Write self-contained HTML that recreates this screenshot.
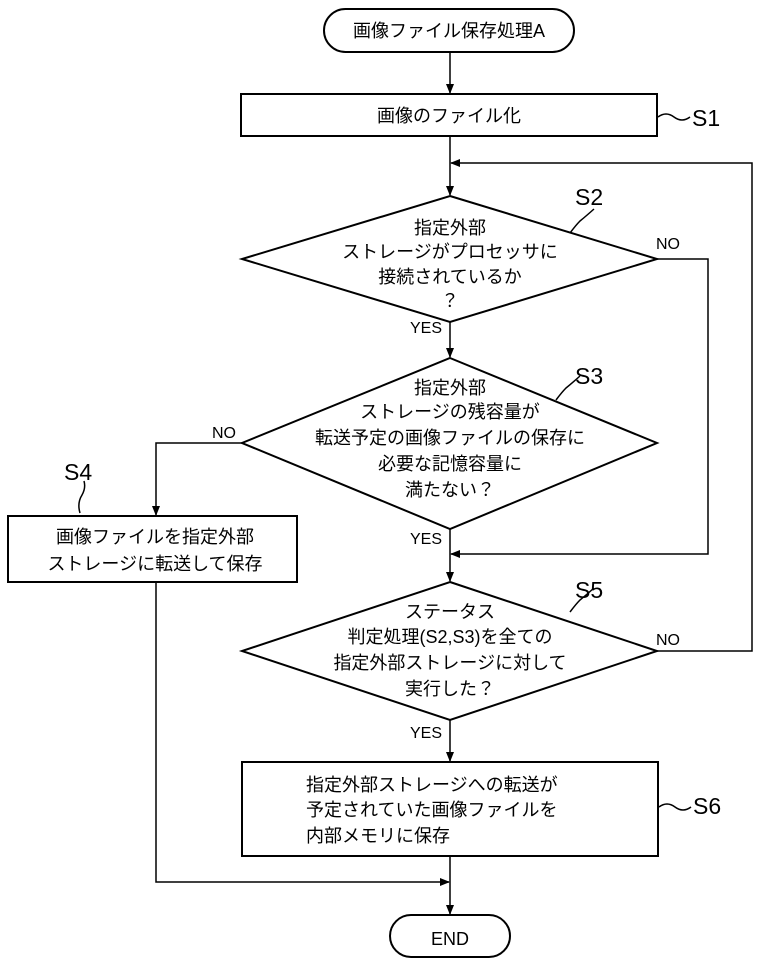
<!DOCTYPE html>
<html><head><meta charset="utf-8"><style>
html,body{margin:0;padding:0;background:#fff}
svg text{font-family:"Liberation Sans","Noto Sans CJK JP",sans-serif;fill:#000}
</style></head><body>
<svg width="762" height="959" viewBox="0 0 762 959" xmlns="http://www.w3.org/2000/svg">
<defs><marker id="a" markerWidth="10" markerHeight="10" refX="9" refY="5" orient="auto" markerUnits="userSpaceOnUse"><path d="M0,1 L10,5 L0,9 Z" fill="#000"/></marker></defs>
<g stroke="#000" stroke-width="2" fill="none">
<rect x="324" y="9" width="250" height="43" rx="21.5"/>
<rect x="241" y="94" width="416" height="42"/>
<polygon points="450,196 657,259 450,322 242,259"/>
<polygon points="450,358 657,443 450,529 242,443"/>
<rect x="8" y="516" width="289" height="66"/>
<polygon points="450,582 657,651 450,720 242,651"/>
<rect x="242" y="762" width="416" height="94"/>
<rect x="390" y="915" width="120" height="42" rx="21"/>
</g>
<g stroke="#000" stroke-width="1.5" fill="none">
<line x1="450" y1="52" x2="450" y2="93" marker-end="url(#a)"/>
<line x1="450" y1="136" x2="450" y2="195" marker-end="url(#a)"/>
<polyline points="657,651 752,651 752,163 451,163" marker-end="url(#a)"/>
<polyline points="657,259 708,259 708,554 451,554" marker-end="url(#a)"/>
<line x1="450" y1="322" x2="450" y2="357" marker-end="url(#a)"/>
<polyline points="242,443 156,443 156,515" marker-end="url(#a)"/>
<line x1="450" y1="529" x2="450" y2="581" marker-end="url(#a)"/>
<line x1="450" y1="720" x2="450" y2="761" marker-end="url(#a)"/>
<polyline points="156,582 156,882 449,882" marker-end="url(#a)"/>
<line x1="450" y1="856" x2="450" y2="914" marker-end="url(#a)"/>
<path d="M658,117 q8,-6 16,0 t16,0"/>
<path d="M570,233 q6,-8 10,-12 q5,-4 14,-12"/>
<path d="M556,400 q6,-8 10,-12 q5,-4 14,-12"/>
<path d="M80,513 q-3,-10 2,-18 q4,-7 2,-14"/>
<path d="M570,612 q6,-8 10,-12 q5,-4 14,-12"/>
<path d="M659,807 q8,-6 16,0 t16,0"/>
</g>
<g font-size="18" text-anchor="middle">
<text x="449" y="37">画像ファイル保存処理A</text>
<text x="449" y="122">画像のファイル化</text>
<text x="450" y="234">指定外部</text>
<text x="450" y="258">ストレージがプロセッサに</text>
<text x="450" y="283">接続されているか</text>
<text x="450" y="307">？</text>
<text x="450" y="394">指定外部</text>
<text x="450" y="418">ストレージの残容量が</text>
<text x="450" y="444">転送予定の画像ファイルの保存に</text>
<text x="450" y="470">必要な記憶容量に</text>
<text x="450" y="496">満たない？</text>
<text x="155" y="543">画像ファイルを指定外部</text>
<text x="155" y="570">ストレージに転送して保存</text>
<text x="450" y="618">ステータス</text>
<text x="450" y="643">判定処理(S2,S3)を全ての</text>
<text x="450" y="669">指定外部ストレージに対して</text>
<text x="450" y="695">実行した？</text>
<text x="450" y="945">END</text>
</g>
<g font-size="18">
<text x="306" y="791">指定外部ストレージへの転送が</text>
<text x="306" y="816">予定されていた画像ファイルを</text>
<text x="306" y="842">内部メモリに保存</text>
</g>
<g font-size="16">
<text x="656" y="249">NO</text>
<text x="410" y="333">YES</text>
<text x="212" y="438">NO</text>
<text x="410" y="544">YES</text>
<text x="656" y="645">NO</text>
<text x="410" y="738">YES</text>
</g>
<g font-size="23">
<text x="692" y="126">S1</text>
<text x="575" y="205">S2</text>
<text x="575" y="384">S3</text>
<text x="64" y="480">S4</text>
<text x="575" y="598">S5</text>
<text x="693" y="814">S6</text>
</g>
</svg>
</body></html>
